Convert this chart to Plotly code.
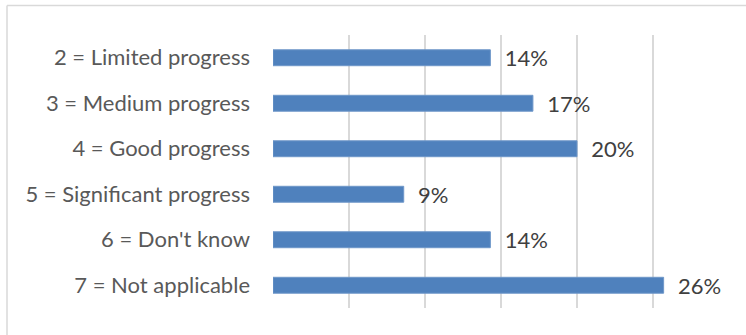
import plotly.graph_objects as go

categories = [
    "2 = Limited progress",
    "3 = Medium progress",
    "4 = Good progress",
    "5 = Significant progress",
    "6 = Don't know",
    "7 = Not applicable",
]
values = [0.143, 0.171, 0.200, 0.086, 0.143, 0.257]
x_ticks = [0, 0.05, 0.10, 0.15, 0.20, 0.25, 0.30]

FONT = "Lato"

fig = go.Figure(
    go.Bar(
        x=values,
        y=categories,
        orientation="h",
        marker=dict(color="#4f81bd", line=dict(color="#6f97c9", width=1)),
        texttemplate="\u00a0\u00a0%{x:.0%}",
        textposition="outside",
        constraintext="none",
        cliponaxis=False,
        textfont=dict(family=FONT, size=22, color="#404040"),
        hoverinfo="skip",
    )
)

W, H = 746, 335
L, R, T, B = 273, 17, 35, 27

fig.update_layout(
    width=W,
    height=H,
    margin=dict(l=L, r=R, t=T, b=B),
    paper_bgcolor="white",
    plot_bgcolor="white",
    bargap=0.65,
    showlegend=False,
    font=dict(family=FONT),
    uniformtext=dict(mode=False),
    xaxis=dict(
        range=[0, 0.30],
        tickvals=x_ticks,
        showticklabels=False,
        showgrid=True,
        gridcolor="#d9d9d9",
        gridwidth=1.5,
        zeroline=False,
        showline=False,
        fixedrange=True,
    ),
    yaxis=dict(
        autorange="reversed",
        showgrid=False,
        zeroline=False,
        showline=False,
        ticklabelstandoff=22,
        tickfont=dict(family=FONT, size=22, color="#595959"),
        fixedrange=True,
    ),
    shapes=[
        dict(type="line", xref="paper", yref="paper",
             x0=(7 - L) / (W - L - R), x1=(W + 5 - L) / (W - L - R),
             y0=(H - B - 5.5) / (H - T - B), y1=(H - B - 5.5) / (H - T - B),
             line=dict(color="#d9d9d9", width=1.5)),
        dict(type="line", xref="paper", yref="paper",
             x0=(7 - L) / (W - L - R), x1=(7 - L) / (W - L - R),
             y0=(H - B - 5.5) / (H - T - B), y1=-(B + 5) / (H - T - B),
             line=dict(color="#d9d9d9", width=1.5)),
    ],
)

fig.write_html("out.html")
